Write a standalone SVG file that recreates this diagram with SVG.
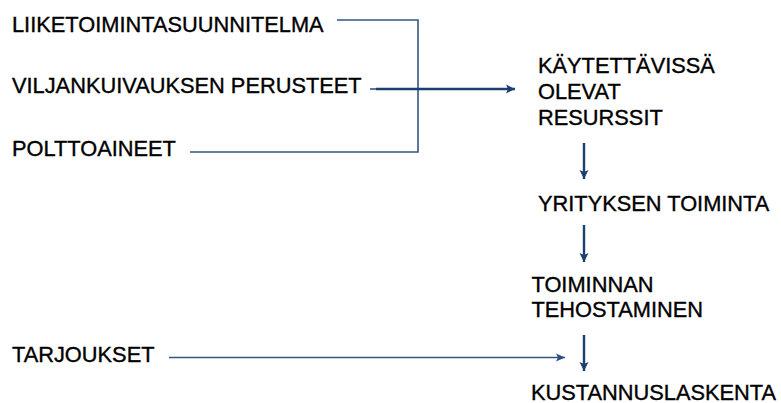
<svg xmlns="http://www.w3.org/2000/svg" width="781" height="403" viewBox="0 0 781 403">
<style>
text{font-family:"Liberation Sans",Arial,sans-serif;font-size:21.8px;fill:#000;stroke:#000;stroke-width:0.35}
.thin{stroke:#34587f;stroke-width:1.6;fill:none}
.thick{stroke:#1b3f6e;stroke-width:2.4;fill:none}
</style>
<defs>
<marker id="ah" markerUnits="userSpaceOnUse" markerWidth="12" markerHeight="12" refX="10" refY="6" orient="auto">
<path d="M1,1.5 L10,6 L1,10.5 L3,6 Z" fill="#1b3f6e"/>
</marker>
<marker id="ahs" markerUnits="userSpaceOnUse" markerWidth="12" markerHeight="12" refX="10" refY="6" orient="auto">
<path d="M1,2 L10,6 L1,10 L3,6 Z" fill="#2a5080"/>
</marker>
</defs>
<rect width="781" height="403" fill="#fff"/>
<g id="connectors">
<polyline class="thin" points="337,20 418,20 418,152 190,152"/>
<line class="thin" x1="370" y1="89" x2="376" y2="89"/>
<line class="thick" x1="376" y1="89" x2="515" y2="89" marker-end="url(#ah)"/>
<line class="thick" x1="584" y1="143" x2="584" y2="179" marker-end="url(#ah)"/>
<line class="thick" x1="584" y1="225" x2="584" y2="262" marker-end="url(#ah)"/>
<line class="thick" x1="584" y1="335" x2="584" y2="371" marker-end="url(#ah)"/>
<line class="thin" x1="169" y1="357.5" x2="565" y2="357.5" marker-end="url(#ahs)"/>
</g>
<g id="liiketoimintasuunnitelma"><text x="12" y="31.5">LIIKETOIMINTASUUNNITELMA</text></g>
<g id="viljankuivauksen"><text x="12" y="93">VILJANKUIVAUKSEN PERUSTEET</text></g>
<g id="polttoaineet"><text x="12" y="155.5">POLTTOAINEET</text></g>
<g id="resurssit"><text x="538" y="72.7">KÄYTETTÄVISSÄ</text><text x="538" y="99">OLEVAT</text><text x="538" y="125">RESURSSIT</text></g>
<g id="yrityksen"><text x="538" y="210.5">YRITYKSEN TOIMINTA</text></g>
<g id="tehostaminen"><text x="531.5" y="292">TOIMINNAN</text><text x="531.5" y="317.3">TEHOSTAMINEN</text></g>
<g id="tarjoukset"><text x="12" y="361.5">TARJOUKSET</text></g>
<g id="kustannuslaskenta"><text x="531" y="399.5">KUSTANNUSLASKENTA</text></g>
</svg>
